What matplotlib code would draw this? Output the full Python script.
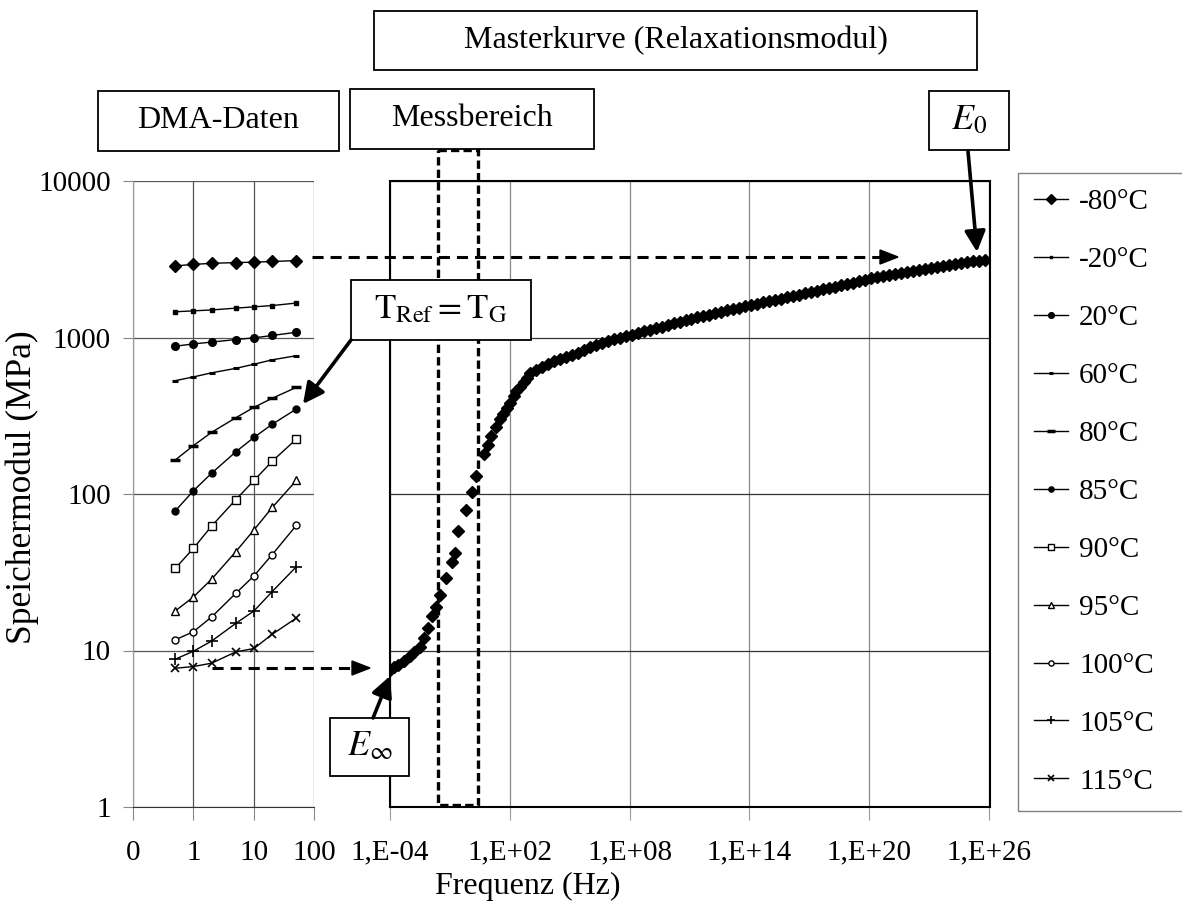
import numpy as np
import matplotlib
matplotlib.use('Agg')
import matplotlib.pyplot as plt
from matplotlib.patches import Rectangle, Polygon
from matplotlib.ticker import FixedLocator, FixedFormatter, NullLocator

plt.rcParams['font.family'] = ['Liberation Serif', 'DejaVu Serif']
plt.rcParams['mathtext.fontset'] = 'stix'
plt.rcParams['lines.scale_dashes'] = False

# ---------------- data ----------------
freq = [0.5, 1, 2, 5, 10, 20, 50]
temps = ['-80°C', '-20°C', '20°C', '60°C', '80°C', '85°C',
         '90°C', '95°C', '100°C', '105°C', '115°C']
E_m80 = [2870, 2930, 2980, 3010, 3030, 3060, 3100]
E_m20 = [1460, 1480, 1500, 1540, 1570, 1600, 1660]
E_20 = [880, 910, 935, 970, 995, 1030, 1080]
E_60 = [530, 560, 595, 635, 675, 720, 765]
E_80 = [165, 204, 248, 307, 358, 409, 480]
E_85 = [78, 105, 136, 186, 230, 279, 349]
E_90 = [33.5, 45, 62.5, 92, 122, 162, 224]
E_95 = [17.9, 22, 28.6, 42.8, 59, 82, 122]
E_100 = [11.7, 13.2, 16.4, 23.2, 30, 41, 63]
E_105 = [8.8, 9.9, 11.5, 14.9, 17.9, 23.8, 34.3]
E_115 = [7.7, 7.9, 8.3, 9.8, 10.3, 12.7, 16.1]
dma_series = [E_m80, E_m20, E_20, E_60, E_80, E_85, E_90, E_95, E_100, E_105, E_115]

# master curve: log10(frequency) and modulus (MPa)
master_logf = [-4.0, -3.8, -3.6, -3.3, -3.0, -2.8, -2.5, -2.3, -2.1, -1.9,
               -1.7, -1.5, -1.2, -0.9, -0.75, -0.6, -0.2, 0.1, 0.33, 0.7,
               0.9, 1.08, 1.3, 1.5, 1.67, 1.85, 2.0, 2.2, 2.33, 2.5,
               2.7, 2.85, 3.0, 3.3, 3.6, 3.9, 4.2, 4.5, 4.8, 5.1,
               5.4, 5.7, 6.0, 6.3, 6.6, 6.9, 7.2, 7.5, 7.8, 8.1,
               8.4, 8.7, 9.0, 9.3, 9.6, 9.9, 10.2, 10.5, 10.8, 11.1,
               11.4, 11.7, 12.0, 12.3, 12.6, 12.9, 13.2, 13.5, 13.8, 14.1,
               14.4, 14.7, 15.0, 15.3, 15.6, 15.9, 16.2, 16.5, 16.8, 17.1,
               17.4, 17.7, 18.0, 18.3, 18.6, 18.9, 19.2, 19.5, 19.8, 20.1,
               20.4, 20.7, 21.0, 21.3, 21.6, 21.9, 22.2, 22.5, 22.8, 23.1,
               23.4, 23.7, 24.0, 24.3, 24.6, 24.9, 25.2, 25.5, 25.8]
master_E = [7.5, 7.8, 8.1, 8.6, 9.2, 9.8, 10.5, 12.0, 14.0, 16.5,
            19.0, 22.5, 29, 37, 42, 58, 79, 103, 130, 180,
            205, 235, 268, 300, 324, 355, 380, 420, 454, 480,
            520, 555, 590, 620, 650, 680, 705, 725, 750, 775,
            800, 835, 870, 895, 920, 950, 975, 1000, 1025, 1045,
            1070, 1095, 1120, 1145, 1170, 1200, 1230, 1260, 1290, 1320,
            1345, 1375, 1400, 1430, 1460, 1490, 1520, 1550, 1580, 1615,
            1645, 1680, 1710, 1745, 1775, 1810, 1845, 1880, 1915, 1950,
            1990, 2030, 2070, 2110, 2150, 2190, 2240, 2290, 2340, 2390,
            2430, 2470, 2510, 2550, 2590, 2630, 2670, 2710, 2750, 2800,
            2840, 2880, 2920, 2960, 3000, 3040, 3070, 3100, 3130]

y_ticks = [1, 10, 100, 1000, 10000]
y_labels = ['1', '10', '100', '1000', '10000']
dma_ticks = [0.1, 1, 10, 100]
dma_labels = ['0', '1', '10', '100']
master_ticks = [1e-4, 1e2, 1e8, 1e14, 1e20, 1e26]
master_labels = ['1,E-04', '1,E+02', '1,E+08', '1,E+14', '1,E+20', '1,E+26']

# ---------------- figure ----------------
W, H = 1182, 915
fig = plt.figure(figsize=(W / 100, H / 100), dpi=100)


def fx(px):
    return px / W


def fy(py):
    return 1 - py / H


ax1 = fig.add_axes([fx(133), fy(807), (314.5 - 133) / W, 626 / H])
ax2 = fig.add_axes([fx(390), fy(807), 600 / W, 626 / H])

styles = [
    dict(marker='D', ms=6.5, mfc='k', mec='k'),
    dict(marker='s', ms=2.5, mfc='k', mec='k'),
    dict(marker='o', ms=5.5, mfc='k', mec='k'),
    dict(marker='_', ms=4, mew=2.2),
    dict(marker='_', ms=7, mew=2.5),
    dict(marker='o', ms=5, mfc='k', mec='k'),
    dict(marker='s', ms=5.5, mfc='white', mec='k', mew=1),
    dict(marker='^', ms=6, mfc='white', mec='k', mew=1),
    dict(marker='o', ms=5, mfc='white', mec='k', mew=1),
    dict(marker='+', ms=8, mew=1.2),
    dict(marker='x', ms=6, mew=1.2),
]

handles = []
for vals, st in zip(dma_series, styles):
    h, = ax1.plot(freq, vals, color='k', lw=1.0, **st, zorder=3)
    handles.append(h)

ax2.plot(10.0 ** np.array(master_logf), master_E, ls='none', marker='D',
         ms=6.5, color='k', zorder=3)

fs_tick = 21
for ax in (ax1, ax2):
    ax.set_xscale('log')
    ax.set_yscale('log')
    ax.set_ylim(1, 10000)
    ax.yaxis.set_major_locator(FixedLocator(y_ticks))
    ax.yaxis.set_minor_locator(NullLocator())
    ax.xaxis.set_minor_locator(NullLocator())
    ax.set_facecolor('none')

ax1.set_xlim(0.1, 100)
ax1.xaxis.set_major_locator(FixedLocator(dma_ticks))
ax1.xaxis.set_major_formatter(FixedFormatter(dma_labels))
ax1.yaxis.set_major_formatter(FixedFormatter(y_labels))
ax1.tick_params(axis='x', direction='out', length=9.5, width=0.8, color='#888888',
                labelsize=fs_tick, pad=14)
ax1.tick_params(axis='y', direction='out', length=7, width=0.8, color='#888888',
                labelsize=fs_tick, pad=9)
ax1.grid(True, which='major', color='#555555', lw=0.9)
ax1.spines['top'].set_visible(False)
ax1.spines['right'].set_visible(False)
ax1.spines['left'].set_color('#999999')
ax1.spines['bottom'].set_color('#333333')
ax1.set_axisbelow(True)

ax2.set_xlim(1e-4, 10 ** 26.05)
ax2.xaxis.set_major_locator(FixedLocator(master_ticks))
ax2.xaxis.set_major_formatter(FixedFormatter(master_labels))
ax2.tick_params(axis='x', direction='out', length=9.5, width=0.8, color='#999999',
                labelsize=fs_tick, pad=14)
ax2.tick_params(axis='y', length=0, labelleft=False)
ax2.xaxis.grid(True, color='#888888', lw=0.9)
ax2.yaxis.grid(True, color='#333333', lw=0.9)
for s in ax2.spines.values():
    s.set_color('k')
    s.set_linewidth(1.5)
ax2.set_axisbelow(True)

fig.text(fx(22), fy(487), 'Speichermodul (MPa)', rotation=90, fontsize=25.5,
         ha='center', va='center')
fig.text(fx(528), fy(886), 'Frequenz (Hz)', fontsize=23, ha='center', va='center')

leg = fig.legend(handles, temps, loc='upper left',
                 bbox_to_anchor=(fx(1018), fy(173) - 0.1, 0.2, 0.1), mode='expand',
                 borderaxespad=0, fontsize=21, frameon=True, fancybox=False,
                 edgecolor='#808080', framealpha=1, handlelength=1.15,
                 handletextpad=0.4, labelspacing=1.08, borderpad=0.55,
                 markerscale=0.75)
leg.get_frame().set_linewidth(1.0)

# ---------------- overlay annotations (pixel coordinates) ----------------
ov = fig.add_axes([0, 0, 1, 1])
ov.set_xlim(0, W)
ov.set_ylim(H, 0)
ov.axis('off')
ov.set_facecolor('none')


def box(x0, y0, w, h, text, fs=23, dy=0):
    ov.add_patch(Rectangle((x0, y0), w, h, facecolor='white', edgecolor='k',
                           lw=1.3, zorder=6))
    ov.text(x0 + w / 2, y0 + h / 2 + dy, text, fontsize=fs, ha='center',
            va='center', zorder=7)


# Messbereich dashed rectangle
ov.add_patch(Rectangle((438, 150), 40, 655, facecolor='none', edgecolor='k',
                       lw=2.4, ls=(0, (6, 3)), zorder=4))


def dashed_arrow(x0, x1, y):
    head = 16
    ov.plot([x0, x1 - head], [y, y], color='k', lw=2.2, ls=(0, (8, 5)), zorder=4,
            solid_capstyle='butt', dash_capstyle='butt')
    ov.add_patch(Polygon([[x1, y], [x1 - head - 2, y - 7], [x1 - head - 2, y + 7]],
                         closed=True, facecolor='k', edgecolor='k', zorder=4))


dashed_arrow(312, 898, 257)
dashed_arrow(212, 370, 668)


def solid_arrow(start, tip):
    ov.annotate('', xy=tip, xytext=start,
                arrowprops=dict(arrowstyle='-|>,head_length=0.7,head_width=0.35',
                                lw=2.6, color='k', shrinkA=0, shrinkB=0,
                                mutation_scale=18),
                zorder=8)


solid_arrow((968, 151), (977, 252))
solid_arrow((351, 340), (303, 404))
solid_arrow((373, 718), (390, 676))

box(374, 11, 603, 59, 'Masterkurve (Relaxationsmodul)')
box(98, 91, 241, 60, 'DMA-Daten')
box(350, 89, 244, 60, 'Messbereich')
box(929, 91, 80, 59, r'$E_0$', fs=26)
box(351, 280, 180, 60, r'$\mathrm{T_{Ref}= T_G}$', fs=25)
box(330, 718, 79, 58, r'$E_\infty$', fs=26)

fig.savefig('out.png', dpi=100)
